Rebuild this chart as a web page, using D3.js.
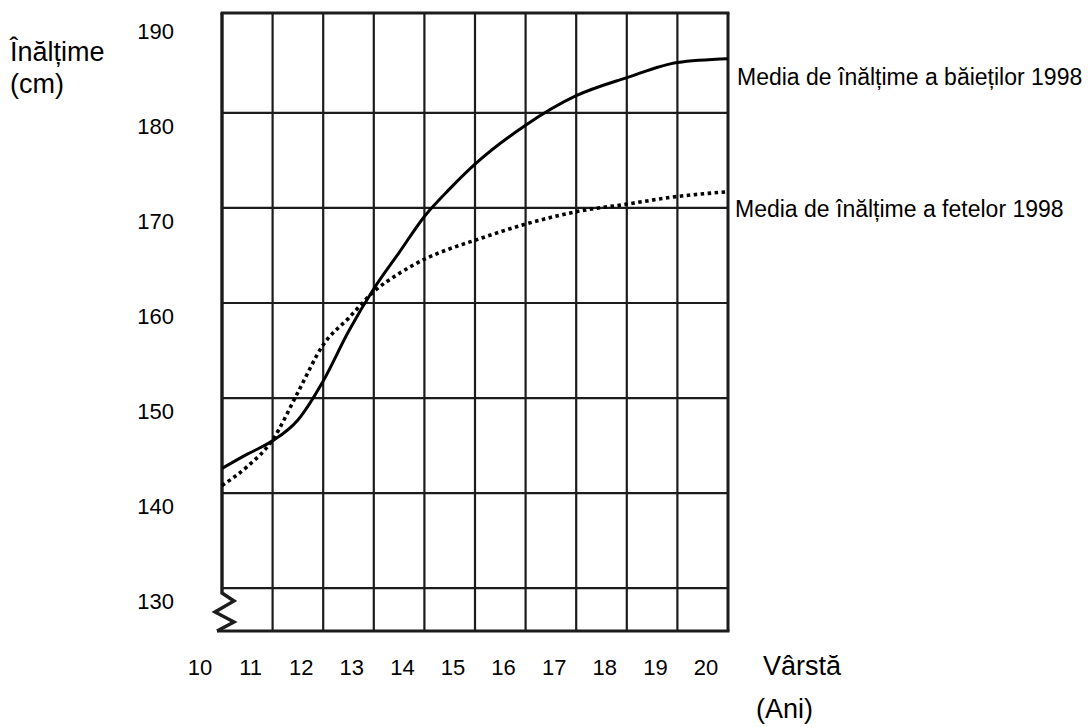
<!DOCTYPE html>
<html>
<head>
<meta charset="utf-8">
<script src="https://cdn.jsdelivr.net/npm/d3@7"></script>
<style>
  html, body { margin: 0; padding: 0; background: #fff; }
  svg { display: block; font-family: "Liberation Sans", Arial, sans-serif; }
</style>
</head>
<body>
<svg id="chart" width="1090" height="727"></svg>
<script>
// ---- data ----
const ages = [10, 10.5, 11, 11.5, 12, 12.5, 13, 13.5, 14, 14.5, 15, 16, 17, 18, 19, 20];
const boysHeight = [142.6, 144.1, 145.5, 147.7, 151.8, 157.0, 161.5, 165.3, 169.1, 172.0, 174.6, 178.7, 181.8, 183.7, 185.3, 185.7];
const girlsHeight = [140.8, 142.8, 145.6, 150.6, 155.6, 158.4, 161.2, 163.1, 164.6, 165.7, 166.6, 168.3, 169.6, 170.4, 171.2, 171.7];
const xTicks = [10, 11, 12, 13, 14, 15, 16, 17, 18, 19, 20];
const yTicks = [130, 140, 150, 160, 170, 180, 190];
const yGrid = [130, 140, 150, 160, 170, 180];
const boysLabel = "Media de înălțime a băieților 1998";
const girlsLabel = "Media de înălțime a fetelor 1998";
const yTitle = ["Înălțime", "(cm)"];
const xTitle = ["Vârstă", "(Ani)"];

(function () {
// ---- scales ----
const x = d3.scaleLinear().domain([10, 20]).range([222, 728]);
const y = d3.scaleLinear().domain([125.5, 190.5]).range([631, 13]);

const svg = d3.select("#chart");
svg.append("rect").attr("width", 1090).attr("height", 727).attr("fill", "#fff");

const ink = "#1c1c1c";
const yTop = y(190.5), yBot = y(125.5), xL = x(10), xR = x(20);

// grid: vertical lines
svg.append("g").selectAll("line")
  .data(xTicks.slice(1, -1)).join("line")
  .attr("x1", d => x(d)).attr("x2", d => x(d))
  .attr("y1", yTop).attr("y2", yBot)
  .attr("stroke", ink).attr("stroke-width", 2.2);

// grid: horizontal lines
svg.append("g").selectAll("line")
  .data(yGrid).join("line")
  .attr("x1", xL).attr("x2", xR)
  .attr("y1", d => y(d)).attr("y2", d => y(d))
  .attr("stroke", ink).attr("stroke-width", 2.2);

// frame: top, right, bottom
svg.append("line").attr("x1", xL - 1.5).attr("x2", xR + 1.5).attr("y1", yTop).attr("y2", yTop)
  .attr("stroke", ink).attr("stroke-width", 3);
svg.append("line").attr("x1", xR).attr("x2", xR).attr("y1", yTop).attr("y2", yBot)
  .attr("stroke", ink).attr("stroke-width", 3);
svg.append("line").attr("x1", xL - 5).attr("x2", xR + 1.5).attr("y1", yBot).attr("y2", yBot)
  .attr("stroke", ink).attr("stroke-width", 3);

// left axis with break zigzag
const yb = y(129.5);
const zig = [
  [xL, yTop], [xL, yb],
  [xL + 12, yb + 8], [xL - 7, yb + 19], [xL + 12, yb + 29], [xL - 5, yBot]
];
svg.append("path").attr("d", d3.line()(zig))
  .attr("fill", "none").attr("stroke", ink).attr("stroke-width", 3.4)
  .attr("stroke-linejoin", "miter");

// ---- lines ----
const lineGen = d3.line().x(d => x(d[0])).y(d => y(d[1])).curve(d3.curveMonotoneX);

svg.append("path")
  .attr("d", lineGen(ages.map((a, i) => [a, girlsHeight[i]])))
  .attr("fill", "none").attr("stroke", "#000").attr("stroke-width", 3.6)
  .attr("stroke-dasharray", "3.5 3.5");

svg.append("path")
  .attr("d", lineGen(ages.map((a, i) => [a, boysHeight[i]])))
  .attr("fill", "none").attr("stroke", "#000").attr("stroke-width", 3);

// ---- tick labels ----
svg.append("g").selectAll("text")
  .data(yTicks).join("text")
  .attr("x", 174).attr("y", d => y(d) + 21)
  .attr("text-anchor", "end").attr("font-size", 22).attr("fill", "#000")
  .text(d => d);

svg.append("g").selectAll("text")
  .data(xTicks).join("text")
  .attr("x", d => x(d) - 22).attr("y", 675)
  .attr("text-anchor", "middle").attr("font-size", 22).attr("fill", "#000")
  .text(d => d);

// ---- axis titles ----
svg.append("text").attr("x", 10).attr("y", 61).attr("font-size", 27).text(yTitle[0]);
svg.append("text").attr("x", 10).attr("y", 93).attr("font-size", 27).text(yTitle[1]);
svg.append("text").attr("x", 763).attr("y", 675).attr("font-size", 27).text(xTitle[0]);
svg.append("text").attr("x", 756).attr("y", 718).attr("font-size", 27).text(xTitle[1]);

// ---- series labels ----
svg.append("text").attr("x", 737).attr("y", y(boysHeight[boysHeight.length - 1]) + 26)
  .attr("font-size", 23).text(boysLabel);
svg.append("text").attr("x", 735).attr("y", y(girlsHeight[girlsHeight.length - 1]) + 25)
  .attr("font-size", 23).text(girlsLabel);
})();
</script>
</body>
</html>
